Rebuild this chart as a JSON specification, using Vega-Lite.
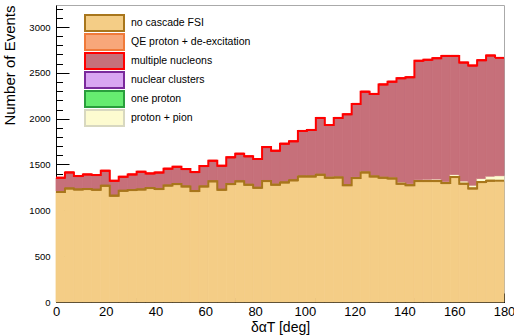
{
  "$schema": "https://vega.github.io/schema/vega-lite/v6.json",
  "width": 448,
  "height": 297,
  "autosize": "none",
  "padding": {"left": 56, "top": 5, "right": 10, "bottom": 33},
  "background": "white",
  "config": {"view": {"stroke": "#aaaaaa", "strokeWidth": 1}, "font": "Liberation Sans"},
  "data": {"values": [
    {"lo": 0, "hi": 3.6, "no cascade FSI": 1200, "proton + pion": 6, "multiple nucleons": 149},
    {"lo": 3.6, "hi": 7.2, "no cascade FSI": 1239, "proton + pion": 6, "multiple nucleons": 169},
    {"lo": 7.2, "hi": 10.8, "no cascade FSI": 1228, "proton + pion": 6, "multiple nucleons": 140},
    {"lo": 10.8, "hi": 14.4, "no cascade FSI": 1232, "proton + pion": 6, "multiple nucleons": 154},
    {"lo": 14.4, "hi": 18, "no cascade FSI": 1224, "proton + pion": 6, "multiple nucleons": 155},
    {"lo": 18, "hi": 21.6, "no cascade FSI": 1268, "proton + pion": 6, "multiple nucleons": 158},
    {"lo": 21.6, "hi": 25.2, "no cascade FSI": 1160, "proton + pion": 6, "multiple nucleons": 156},
    {"lo": 25.2, "hi": 28.8, "no cascade FSI": 1213, "proton + pion": 6, "multiple nucleons": 147},
    {"lo": 28.8, "hi": 32.4, "no cascade FSI": 1221, "proton + pion": 6, "multiple nucleons": 165},
    {"lo": 32.4, "hi": 36, "no cascade FSI": 1228, "proton + pion": 6, "multiple nucleons": 187},
    {"lo": 36, "hi": 39.6, "no cascade FSI": 1243, "proton + pion": 8, "multiple nucleons": 152},
    {"lo": 39.6, "hi": 43.2, "no cascade FSI": 1232, "proton + pion": 8, "multiple nucleons": 172},
    {"lo": 43.2, "hi": 46.8, "no cascade FSI": 1270, "proton + pion": 8, "multiple nucleons": 177},
    {"lo": 46.8, "hi": 50.4, "no cascade FSI": 1286, "proton + pion": 8, "multiple nucleons": 181},
    {"lo": 50.4, "hi": 54, "no cascade FSI": 1261, "proton + pion": 8, "multiple nucleons": 181},
    {"lo": 54, "hi": 57.6, "no cascade FSI": 1210, "proton + pion": 8, "multiple nucleons": 199},
    {"lo": 57.6, "hi": 61.2, "no cascade FSI": 1261, "proton + pion": 8, "multiple nucleons": 214},
    {"lo": 61.2, "hi": 64.8, "no cascade FSI": 1316, "proton + pion": 8, "multiple nucleons": 217},
    {"lo": 64.8, "hi": 68.4, "no cascade FSI": 1224, "proton + pion": 8, "multiple nucleons": 254},
    {"lo": 68.4, "hi": 72, "no cascade FSI": 1286, "proton + pion": 8, "multiple nucleons": 284},
    {"lo": 72, "hi": 75.6, "no cascade FSI": 1316, "proton + pion": 10, "multiple nucleons": 292},
    {"lo": 75.6, "hi": 79.2, "no cascade FSI": 1279, "proton + pion": 10, "multiple nucleons": 300},
    {"lo": 79.2, "hi": 82.8, "no cascade FSI": 1246, "proton + pion": 10, "multiple nucleons": 304},
    {"lo": 82.8, "hi": 86.4, "no cascade FSI": 1319, "proton + pion": 10, "multiple nucleons": 361},
    {"lo": 86.4, "hi": 90, "no cascade FSI": 1280, "proton + pion": 10, "multiple nucleons": 360},
    {"lo": 90, "hi": 93.6, "no cascade FSI": 1305, "proton + pion": 10, "multiple nucleons": 412},
    {"lo": 93.6, "hi": 97.2, "no cascade FSI": 1327, "proton + pion": 10, "multiple nucleons": 416},
    {"lo": 97.2, "hi": 100.8, "no cascade FSI": 1370, "proton + pion": 10, "multiple nucleons": 486},
    {"lo": 100.8, "hi": 104.4, "no cascade FSI": 1370, "proton + pion": 10, "multiple nucleons": 497},
    {"lo": 104.4, "hi": 108, "no cascade FSI": 1388, "proton + pion": 10, "multiple nucleons": 610},
    {"lo": 108, "hi": 111.6, "no cascade FSI": 1355, "proton + pion": 12, "multiple nucleons": 564},
    {"lo": 111.6, "hi": 115.2, "no cascade FSI": 1359, "proton + pion": 12, "multiple nucleons": 637},
    {"lo": 115.2, "hi": 118.8, "no cascade FSI": 1275, "proton + pion": 12, "multiple nucleons": 761},
    {"lo": 118.8, "hi": 122.4, "no cascade FSI": 1352, "proton + pion": 12, "multiple nucleons": 797},
    {"lo": 122.4, "hi": 126, "no cascade FSI": 1414, "proton + pion": 12, "multiple nucleons": 869},
    {"lo": 126, "hi": 129.6, "no cascade FSI": 1370, "proton + pion": 12, "multiple nucleons": 888},
    {"lo": 129.6, "hi": 133.2, "no cascade FSI": 1355, "proton + pion": 12, "multiple nucleons": 1007},
    {"lo": 133.2, "hi": 136.8, "no cascade FSI": 1348, "proton + pion": 14, "multiple nucleons": 1042},
    {"lo": 136.8, "hi": 140.4, "no cascade FSI": 1290, "proton + pion": 18, "multiple nucleons": 1133},
    {"lo": 140.4, "hi": 144, "no cascade FSI": 1275, "proton + pion": 16, "multiple nucleons": 1161},
    {"lo": 144, "hi": 147.6, "no cascade FSI": 1319, "proton + pion": 14, "multiple nucleons": 1298},
    {"lo": 147.6, "hi": 151.2, "no cascade FSI": 1319, "proton + pion": 20, "multiple nucleons": 1303},
    {"lo": 151.2, "hi": 154.8, "no cascade FSI": 1319, "proton + pion": 22, "multiple nucleons": 1319},
    {"lo": 154.8, "hi": 158.4, "no cascade FSI": 1297, "proton + pion": 18, "multiple nucleons": 1370},
    {"lo": 158.4, "hi": 162, "no cascade FSI": 1363, "proton + pion": 28, "multiple nucleons": 1294},
    {"lo": 162, "hi": 165.6, "no cascade FSI": 1290, "proton + pion": 30, "multiple nucleons": 1292},
    {"lo": 165.6, "hi": 169.2, "no cascade FSI": 1239, "proton + pion": 35, "multiple nucleons": 1305},
    {"lo": 169.2, "hi": 172.8, "no cascade FSI": 1308, "proton + pion": 40, "multiple nucleons": 1290},
    {"lo": 172.8, "hi": 176.4, "no cascade FSI": 1323, "proton + pion": 50, "multiple nucleons": 1316},
    {"lo": 176.4, "hi": 180, "no cascade FSI": 1323, "proton + pion": 55, "multiple nucleons": 1285}
  ]},
  "transform": [
    {"fold": ["no cascade FSI", "proton + pion", "multiple nucleons"], "as": ["cat", "n"]},
    {"stack": "n", "groupby": ["lo"], "as": ["s0", "s1"]}
  ],
  "layer": [
    {
      "mark": {"type": "bar", "stroke": {"expr": "scale('fill', datum.cat)"}, "strokeWidth": 0.8},
      "encoding": {
        "x": {"field": "lo", "type": "quantitative",
              "scale": {"domain": [0, 180], "nice": false, "zero": false},
              "axis": {"values": [0, 20, 40, 60, 80, 100, 120, 140, 160, 180], "tickSize": -9, "tickColor": "black", "domainColor": "black", "labelColor": "black", "labelFontSize": 13, "labelPadding": 12, "labelFlush": false, "labelOverlap": false, "grid": false, "title": "δαT [deg]", "titleFontSize": 14, "titleFontWeight": "normal", "titleColor": "black", "titlePadding": 2}},
        "x2": {"field": "hi"},
        "y": {"field": "s1", "type": "quantitative",
              "scale": {"domain": [0, 3240], "nice": false},
              "axis": {"values": [0, 500, 1000, 1500, 2000, 2500, 3000], "format": "d", "tickSize": -13, "tickColor": "black", "domainColor": "black", "labelColor": "black", "labelFontSize": 9.5, "labelPadding": 19, "grid": false, "title": "Number of Events", "titleFontSize": 15, "titleFontWeight": "normal", "titleColor": "black", "titleAnchor": "end", "titleX": -39, "titleBaseline": "bottom"}},
        "y2": {"field": "s0"},
        "fill": {"field": "cat", "type": "nominal",
                 "scale": {"domain": ["no cascade FSI", "QE proton + de-excitation", "multiple nucleons", "nuclear clusters", "one proton", "proton + pion"],
                           "range": ["#f4cd86", "#f8a77a", "#c6707a", "#d9a6f2", "#66ec70", "#fdfbd0"]},
                 "legend": {"orient": "none", "legendX": 28, "legendY": 8.5, "title": null, "padding": 0,
                            "symbolType": "M-1,-0.41H1V0.41H-1Z", "symbolSize": 1521, "symbolStrokeWidth": 2, "symbolOpacity": 1,
                            "labelFontSize": 10.5, "labelColor": "black", "labelOffset": 6, "rowPadding": 0, "clipHeight": 19,
                            "encode": {"symbols": {"update": {"stroke": {"scale": "stroke", "field": "value"}, "strokeWidth": {"value": 2}}}}}}
      }
    },
    {
      "mark": {"type": "line", "interpolate": "step-after", "strokeWidth": 2},
      "transform": [{"filter": {"field": "cat", "oneOf": ["no cascade FSI", "multiple nucleons"]}}],
      "encoding": {
        "x": {"field": "lo", "type": "quantitative",
              "axis": {"orient": "bottom", "values": [0, 4, 8, 12, 16, 20, 24, 28, 32, 36, 40, 44, 48, 52, 56, 60, 64, 68, 72, 76, 80, 84, 88, 92, 96, 100, 104, 108, 112, 116, 120, 124, 128, 132, 136, 140, 144, 148, 152, 156, 160, 164, 168, 172, 176, 180], "tickSize": -4.5, "tickColor": "black", "labels": false, "domain": false, "grid": false, "title": null}},
        "y": {"field": "s1", "type": "quantitative",
              "axis": {"orient": "left", "values": [0, 100, 200, 300, 400, 500, 600, 700, 800, 900, 1000, 1100, 1200, 1300, 1400, 1500, 1600, 1700, 1800, 1900, 2000, 2100, 2200, 2300, 2400, 2500, 2600, 2700, 2800, 2900, 3000, 3100, 3200], "tickSize": -6.5, "tickColor": "black", "labels": false, "domain": false, "grid": false, "title": null}},
        "stroke": {"field": "cat", "type": "nominal",
                   "scale": {"domain": ["no cascade FSI", "QE proton + de-excitation", "multiple nucleons", "nuclear clusters", "one proton", "proton + pion"],
                             "range": ["#a8761c", "#f07a3a", "#ff0000", "#7a2a9c", "#2a9e3c", "#d8d8c0"]},
                   "legend": null}
      }
    },
    {
      "mark": {"type": "rule", "strokeWidth": 2},
      "transform": [{"filter": {"field": "cat", "oneOf": ["no cascade FSI", "multiple nucleons"]}}],
      "encoding": {
        "x": {"field": "lo", "type": "quantitative", "axis": null},
        "x2": {"field": "hi"},
        "y": {"field": "s1", "type": "quantitative", "axis": null},
        "stroke": {"field": "cat", "type": "nominal", "legend": null}
      }
    }
  ],
  "resolve": {"axis": {"x": "independent", "y": "independent"}}
}
